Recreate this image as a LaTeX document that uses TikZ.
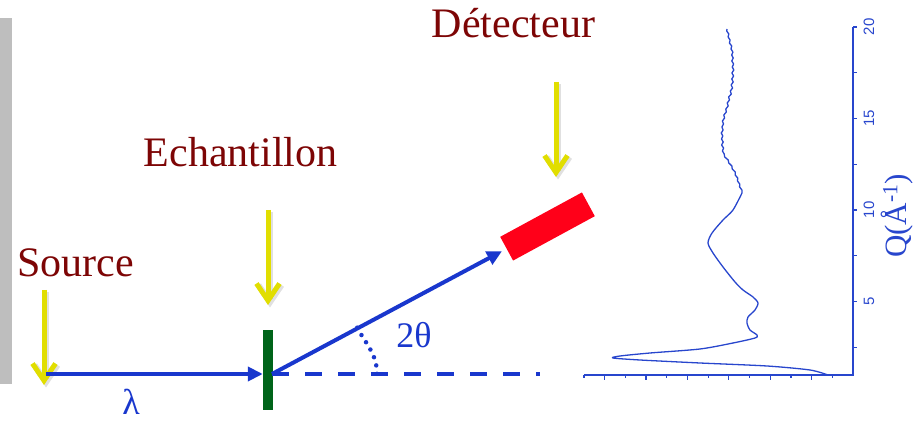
\documentclass[tikz,border=0pt]{standalone}
\usepackage{fontspec}
\setmainfont{Liberation Serif}
\setsansfont{Liberation Sans}
\usetikzlibrary{arrows.meta}
\definecolor{txtred}{RGB}{125,5,5}
\definecolor{bblue}{RGB}{25,55,205}
\definecolor{pblue}{RGB}{40,70,205}
\definecolor{ylw}{RGB}{225,222,0}
\definecolor{sgreen}{RGB}{0,100,25}
\definecolor{dred}{RGB}{255,0,25}
\definecolor{barg}{RGB}{190,190,190}
\begin{document}
\begin{tikzpicture}[x=1pt,y=1pt,
  lbl/.style={text=txtred, font=\fontsize{42}{48}\selectfont, inner sep=0pt, anchor=base},
  greek/.style={text=bblue, font=\fontsize{36}{40}\selectfont, inner sep=0pt},
  yarrow/.style={draw=ylw, line width=5pt, -{Straight Barb[length=17pt,width=23pt]}},
  yshadow/.style={draw=black, opacity=0.12, line width=6pt, -{Straight Barb[length=17pt,width=23pt]}},
  beam/.style={draw=bblue, line width=4pt, -{Triangle[length=15pt,width=14pt]}},
  dashbeam/.style={draw=bblue, line width=4pt, dash pattern=on 17pt off 16pt},
  dotarc/.style={draw=bblue, line width=4.5pt, line cap=round, dash pattern=on 0pt off 8.5pt},
  axisline/.style={draw=pblue, line width=1.2pt},
  curve/.style={draw=pblue, line width=1.3pt, line join=round},
  ticklbl/.style={text=pblue, font=\sffamily\fontsize{15}{16}\selectfont, rotate=90, inner sep=0pt},
]
\useasboundingbox (0,0) rectangle (921,423);
% gray bar
\fill[barg] (0,39) rectangle (12,405);

% labels
\node[lbl] (srclbl) at (75.5,146) {Source};
\node[lbl] (smplbl) at (240.5,256) {Echantillon};
\node[lbl] (detlbl) at (513.5,385) {Détecteur};

% sample and detector
\node[fill=sgreen, minimum width=10pt, minimum height=80pt, inner sep=0pt] (sample) at (268,53) {};
\node[fill=dred, minimum width=93pt, minimum height=27pt, inner sep=0pt, rotate=28.5] (det) at (547.5,196.5) {};

% coordinates
\coordinate (src) at (46,49);
\coordinate (O) at (272,49);
\coordinate (dashend) at (540,49);
\coordinate (P1) at (357.2,95.3);
\coordinate (P2) at (377,49);
\coordinate (ys1) at (44,133);  \coordinate (ys2) at (44,38);
\coordinate (ye1) at (268,213); \coordinate (ye2) at (268,118);
\coordinate (yd1) at (556,341); \coordinate (yd2) at (556,246);

% yellow arrows (shadow + arrow)
\foreach \a/\b in {ys1/ys2,ye1/ye2,yd1/yd2}{
  \draw[yshadow] ([shift={(2,-2.5)}]\a) -- ([shift={(2,-2.5)}]\b);
  \draw[yarrow] (\a) -- (\b);
}

% beams
\draw[beam] (src) -- (sample.west |- src);
\draw[dashbeam] (O) -- (dashend);
\draw[beam, shorten >=5pt] (O) -- (det.west);
\draw[dotarc] (P1) to[out=-61.5, in=90] (P2);

\node[greek] (lam) at (131,21) {λ};
\node[greek] (tth) at (414,87.5) {2θ};

% plot axes
\draw[axisline] (584,48) -- (853,48) -- (853,396);
\foreach \k in {0,...,12}{
  \pgfmathsetmacro{\xx}{584+\k*20.69}
  \pgfmathsetmacro{\tl}{isodd(\k) ? 5 : 3}
  \draw[axisline] (\xx,48) -- (\xx,48-\tl);
}
\foreach \q in {2.5,5,...,20}{
  \draw[axisline] (853,30+18.3*\q) -- (857,30+18.3*\q);
}
\foreach \q in {5,10,15,20}{
  \node[ticklbl] at (869,30+18.3*\q) {\q};
}
\node[text=pblue, font=\fontsize{31}{34}\selectfont, rotate=90, inner sep=0pt] (qlbl) at (897,207) {Q(Å\textsuperscript{-1})};

% curve
\draw[curve] plot[smooth, tension=0.45] coordinates {
 (828,48) (810,53) (767,57) (700,60) (640,63) (613,65) (620,67) (650,70)
 (700,74) (733,80) (755,85) (757,88) (750,93) (747,100) (748,106) (755,113)
 (758,120) (753,126) (743,133) (735,141) (723,156) (713,170) (708,180)
 (712,190) (723,203) (733,213) (742,230)};
\draw[curve] plot coordinates {
 (742,230) (741.9,233) (739.6,236) (739.7,239) (737.5,242) (737.7,245)
 (735.2,248) (735.2,251) (732.2,254) (731.9,257) (728.8,260) (728.2,263)
 (724.7,266) (724.2,269) (722.4,272) (723.6,275) (721.6,278) (723.2,281)
 (721.5,284) (722.8,287) (721.3,290) (723.1,293) (721.9,296) (723.5,299)
 (722.4,302) (724.6,305) (723.8,308) (726.3,311) (725.8,314) (728.2,317)
 (727.2,320) (729.5,323) (728.6,326) (731.3,329) (730.3,332) (732.6,335)
 (731.1,338) (733.2,341) (731.8,344) (733.6,347) (731.9,350) (733.8,353)
 (732.3,356) (733.6,359) (731.8,362) (733.2,365) (731.7,368) (732.9,371)
 (731.0,374) (731.7,377) (729.4,380) (730.1,383) (728.1,386) (728.8,389)
 (726.7,392) (727,394)};
\end{tikzpicture}
\end{document}
